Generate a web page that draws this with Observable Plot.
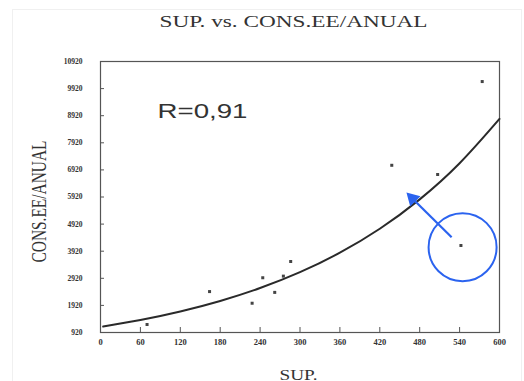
<!DOCTYPE html>
<html>
<head>
<meta charset="utf-8">
<script src="https://cdn.jsdelivr.net/npm/d3@7"></script>
<script src="https://cdn.jsdelivr.net/npm/@observablehq/plot@0.6"></script>
<style>
  html, body { margin: 0; padding: 0; background: #fff; }
  #wrap { position: relative; width: 524px; height: 381px; overflow: hidden; }
  #edge { position: absolute; left: 12px; top: 9px; width: 508px; height: 380px; border: 1px solid #f0f0f0; pointer-events: none; }
</style>
</head>
<body>
<div id="wrap"><div id="edge"></div></div>
<script>
// ---- data ----
const supValues = [70, 164, 228, 244, 262, 275, 286, 438, 507, 574, 542];
const consValues = [1215, 2430, 2000, 2940, 2400, 3000, 3540, 7090, 6750, 10180, 4130];

// fitted trend curve as drawn in the reference
const curveX = [4, 60, 120, 180, 240, 300, 360, 420, 480, 540, 600];
const curveY = [1140, 1381, 1696, 2084, 2560, 3145, 3864, 4747, 5832, 7164, 8801];

const xTicks = [0, 60, 120, 180, 240, 300, 360, 420, 480, 540, 600];
const yTicks = [920, 1920, 2920, 3920, 4920, 5920, 6920, 7920, 8920, 9920, 10920];

const titleText = "SUP. vs. CONS.EE/ANUAL";
const xLabel = "SUP.";
const yLabel = "CONS.EE/ANUAL";
const rText = "R=0,91";

// highlighted outlier annotation (circle + arrow)
const circleAt = [{x: 544.5, y: 4068}];
const arrowFrom = [{x: 528, y: 4437}];
const arrowTo = [{x: 469, y: 5868}];

const points = supValues.map((x, i) => ({x, y: consValues[i]}));
const curve = curveX.map((x, i) => ({x, y: curveY[i]}));
const arrowSeg = arrowFrom.map((a, i) => ({x1: a.x, y1: a.y, x2: arrowTo[i].x, y2: arrowTo[i].y}));

const blue = "#2b63ef";

const chart = Plot.plot({
  width: 524,
  height: 381,
  marginTop: 61,
  marginBottom: 49,
  marginLeft: 100,
  marginRight: 25,
  x: {domain: [0, 600]},
  y: {domain: [920, 10920]},
  style: {background: "transparent", fontFamily: "'Liberation Serif', serif", color: "#222"},
  marks: [
    Plot.frame({stroke: "#555", strokeWidth: 1.2}),
    Plot.axisX(xTicks, {tickSize: 0, tickPadding: 6, fontSize: 8.5, fontWeight: "bold", label: null, tickFormat: d => String(d), fill: "#333"}),
    Plot.axisY(yTicks, {tickSize: 0, tickPadding: 18, fontSize: 7.5, fontWeight: "bold", label: null, tickFormat: d => String(d), fill: "#333"}),
    Plot.ruleX(xTicks.slice(1, -1), {x: d => d, insetTop: 266, stroke: "#555"}),
    Plot.ruleY(yTicks.slice(1, -1), {y: d => d, insetRight: 395, stroke: "#555"}),
    Plot.line(curve, {x: "x", y: "y", curve: "natural", stroke: "#2a2a2a", strokeWidth: 2}),
    Plot.dot(points, {x: "x", y: "y", symbol: "square", r: 1.7, fill: "#444", stroke: "none"}),
    Plot.dot(circleAt, {x: "x", y: "y", r: 34, stroke: blue, strokeWidth: 2, fill: "none"}),
    Plot.link(arrowSeg, {x1: "x1", y1: "y1", x2: "x2", y2: "y2", stroke: blue, strokeWidth: 2.2}),
    Plot.dot(arrowTo, {x: "x", y: "y", symbol: "triangle", r: 5.4, rotate: -45, fill: blue, stroke: "none"}),
    Plot.text([rText], {text: d => d, frameAnchor: "top-left", dx: 57, dy: 42, fontSize: 20, fill: "#333", fontFamily: "'Liberation Sans', Arial, sans-serif"}),
    Plot.text([titleText], {text: d => d, frameAnchor: "top", lineAnchor: "middle", dx: -6.5, dy: -39.7, fontSize: 17, fill: "#333"}),
    Plot.text([xLabel], {text: d => d, frameAnchor: "bottom", lineAnchor: "middle", dx: -1.5, dy: 42.2, fontSize: 15, fill: "#333"}),
    Plot.text([yLabel], {text: d => d, frameAnchor: "left", textAnchor: "middle", lineAnchor: "middle", rotate: -90, dx: -61, dy: 4.5, fontSize: 20, fill: "#333"})
  ]
});

// stretch texts to the proportions seen in the reference
const stretch = {[rText]: 90, [titleText]: 268, [xLabel]: 38, [yLabel]: 122};
d3.select(chart).selectAll("text").each(function() {
  const t = this.textContent;
  if (stretch[t] !== undefined) {
    this.setAttribute("textLength", stretch[t]);
    this.setAttribute("lengthAdjust", "spacingAndGlyphs");
  }
});

chart.style.position = "absolute";
chart.style.left = "0";
chart.style.top = "0";
document.getElementById("wrap").appendChild(chart);
</script>
</body>
</html>
